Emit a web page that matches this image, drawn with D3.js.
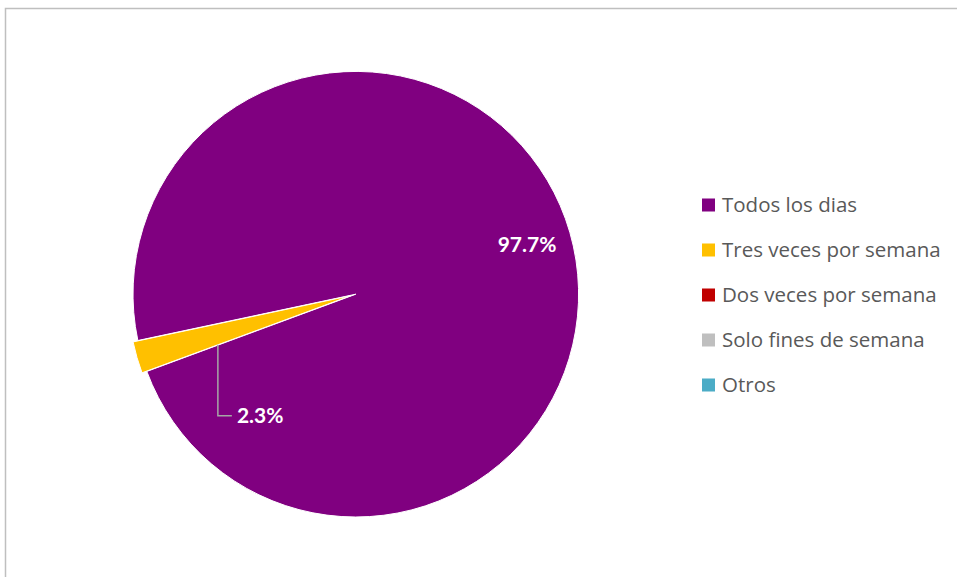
<!DOCTYPE html>
<html>
<head>
<meta charset="utf-8">
<script src="https://cdn.jsdelivr.net/npm/d3@7"></script>
<style>
  html, body { margin: 0; padding: 0; background: #fff; }
  svg { display: block; }
</style>
</head>
<body>
<svg id="chart" width="957" height="577"></svg>
<script>
// Frecuencia
const categories = ["Todos los dias", "Tres veces por semana", "Dos veces por semana", "Solo fines de semana", "Otros"];
const values = [97.7, 2.3, 0, 0, 0];
const colors = ["#800080", "#FFC000", "#C00000", "#BFBFBF", "#4BACC6"];

const svg = d3.select("#chart");
const W = 957, H = 577;

// chart area frame
svg.append("rect")
  .attr("x", 5.5).attr("y", 8.5)
  .attr("width", W + 10).attr("height", H + 10)
  .attr("fill", "none")
  .attr("stroke", "#bfbfbf")
  .attr("stroke-width", 1.5);

const cx = 355.8, cy = 294.2, R = 222.8;
const deg = Math.PI / 180;

const pie = d3.pie()
  .sort(null)
  .value(d => d.value)
  .startAngle(258 * deg)
  .endAngle(258 * deg + 2 * Math.PI);

const data = categories.map((c, i) => ({ name: c, value: values[i], color: colors[i] }));
const arcs = pie(data).filter(a => a.data.value > 0);

const arc = d3.arc().innerRadius(0).outerRadius(R);
const g = svg.append("g").attr("transform", `translate(${cx},${cy})`);

// small slices are pulled out slightly
const explode = d => (d.data.value < 10 ? 5 : 0);
const offset = d => {
  const m = (d.startAngle + d.endAngle) / 2;
  const e = explode(d);
  return [Math.sin(m) * e, -Math.cos(m) * e];
};

g.selectAll("path.slice")
  .data(arcs)
  .join("path")
  .attr("class", "slice")
  .attr("d", arc)
  .attr("transform", d => `translate(${offset(d)})`)
  .attr("fill", d => d.data.color)
  .attr("stroke", "#fff")
  .attr("stroke-width", 1);

const fmt = v => d3.format(".1f")(v) + "%";
const labelFont = "Lato, 'Open Sans', sans-serif";

// labels
arcs.forEach(d => {
  const m = (d.startAngle + d.endAngle) / 2;
  if (d.data.value >= 10) {
    const r = R * 0.8;
    g.append("text")
      .attr("x", Math.sin(m) * r)
      .attr("y", -Math.cos(m) * r)
      .attr("text-anchor", "middle")
      .attr("dy", "0.36em")
      .attr("fill", "#fff")
      .attr("font-family", labelFont)
      .attr("font-weight", "bold")
      .attr("font-size", 21)
      .text(fmt(d.data.value));
  } else {
    // leader from the slice edge down to the label
    const [ox, oy] = offset(d);
    const rr = R * 0.637;
    const sx = Math.sin(d.startAngle) * rr + ox;
    const sy = -Math.cos(d.startAngle) * rr + oy;
    const ly = sy + 71;
    g.append("path")
      .attr("d", `M${sx},${sy}V${ly}H${sx + 14}`)
      .attr("fill", "none")
      .attr("stroke", "#a6a6a6")
      .attr("stroke-width", 1.5);
    g.append("text")
      .attr("x", sx + 19)
      .attr("y", ly)
      .attr("dy", "0.36em")
      .attr("fill", "#fff")
      .attr("font-family", labelFont)
      .attr("font-weight", "bold")
      .attr("font-size", 21)
      .text(fmt(d.data.value));
  }
});

// legend
const legend = svg.append("g").attr("transform", "translate(702,205)");
const rows = legend.selectAll("g")
  .data(data)
  .join("g")
  .attr("transform", (d, i) => `translate(0,${i * 45})`);
rows.append("rect")
  .attr("x", 0).attr("y", -6.5)
  .attr("width", 13).attr("height", 13)
  .attr("fill", d => d.color);
rows.append("text")
  .attr("x", 20)
  .attr("y", 0)
  .attr("dy", "0.36em")
  .attr("fill", "#595959")
  .attr("font-family", "'Open Sans', Lato, sans-serif")
  .attr("font-size", 20.5)
  .text(d => d.name);
</script>
</body>
</html>
